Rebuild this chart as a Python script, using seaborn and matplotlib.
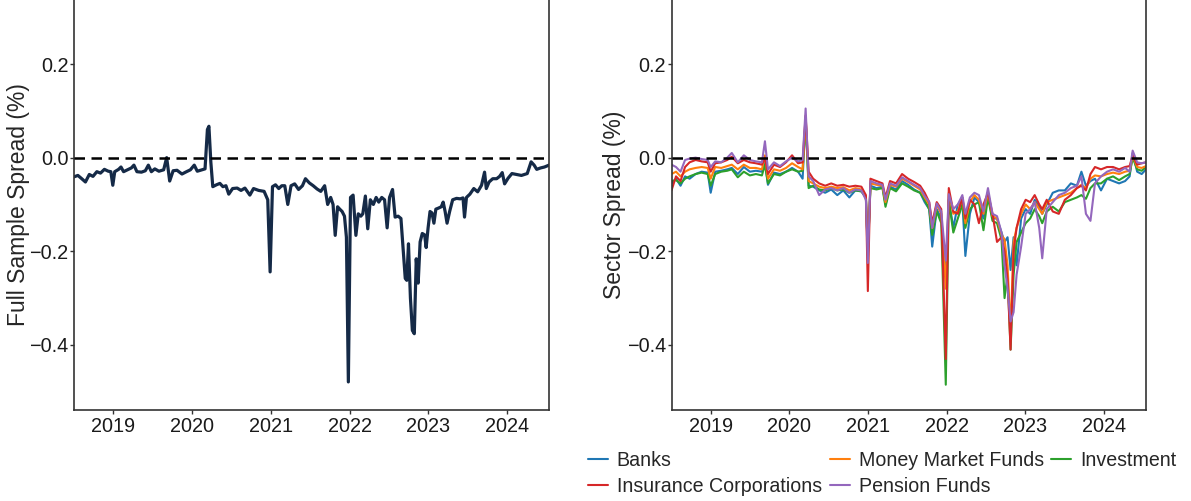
import matplotlib
matplotlib.use("Agg")
import matplotlib.pyplot as plt
import matplotlib.dates as mdates
import pandas as pd
import seaborn as sns

# ---------------------------------------------------------------- data
full_dates = [
    "2018-07-02", "2018-07-20", "2018-08-07", "2018-08-24", "2018-09-11", "2018-09-28",
    "2018-10-16", "2018-11-02", "2018-11-20", "2018-12-08", "2018-12-20", "2018-12-29",
    "2019-01-07", "2019-01-25", "2019-02-05", "2019-02-17", "2019-03-07", "2019-03-25",
    "2019-04-06", "2019-04-20", "2019-05-11", "2019-05-29", "2019-06-12", "2019-06-26",
    "2019-07-12", "2019-07-31", "2019-08-22", "2019-09-05", "2019-09-19", "2019-10-05",
    "2019-10-23", "2019-11-15", "2019-12-06", "2019-12-24", "2020-01-11", "2020-01-25",
    "2020-02-16", "2020-03-01", "2020-03-12", "2020-03-19", "2020-03-28", "2020-04-06",
    "2020-04-23", "2020-05-09", "2020-05-23", "2020-06-06", "2020-06-19", "2020-07-07",
    "2020-07-28", "2020-08-15", "2020-09-02", "2020-09-25", "2020-10-12", "2020-11-05",
    "2020-11-30", "2020-12-17", "2020-12-28", "2021-01-08", "2021-01-22", "2021-02-06",
    "2021-02-20", "2021-03-06", "2021-03-20", "2021-04-04", "2021-04-21", "2021-05-09",
    "2021-05-27", "2021-06-10", "2021-06-28", "2021-07-16", "2021-08-03", "2021-08-20",
    "2021-09-07", "2021-09-21", "2021-10-05", "2021-10-16", "2021-10-26", "2021-11-06",
    "2021-11-16", "2021-11-27", "2021-12-08", "2021-12-17", "2021-12-26", "2022-01-05",
    "2022-01-17", "2022-01-30", "2022-02-10", "2022-02-22", "2022-03-03", "2022-03-15",
    "2022-03-26", "2022-04-07", "2022-04-21", "2022-05-04", "2022-05-16", "2022-05-30",
    "2022-06-12", "2022-06-24", "2022-07-05", "2022-07-19", "2022-07-31", "2022-08-14",
    "2022-08-27", "2022-09-07", "2022-09-16", "2022-09-23", "2022-10-01", "2022-10-10",
    "2022-10-19", "2022-10-28", "2022-11-06", "2022-11-15", "2022-11-24", "2022-12-04",
    "2022-12-15", "2022-12-22", "2022-12-31", "2023-01-09", "2023-01-18", "2023-01-27",
    "2023-02-05", "2023-02-16", "2023-03-02", "2023-03-11", "2023-03-20", "2023-03-29",
    "2023-04-10", "2023-04-24", "2023-05-12", "2023-05-29", "2023-06-11", "2023-06-18",
    "2023-06-27", "2023-07-13", "2023-07-31", "2023-08-18", "2023-09-05", "2023-09-19",
    "2023-09-27", "2023-10-10", "2023-10-27", "2023-11-14", "2023-11-28", "2023-12-10",
    "2023-12-21", "2024-01-06", "2024-01-24", "2024-02-14", "2024-03-08", "2024-04-04",
    "2024-04-22", "2024-05-06", "2024-05-18", "2024-06-05", "2024-06-23", "2024-07-14",
]
full_spread = [
    -0.041, -0.038, -0.045, -0.052, -0.036, -0.040,
    -0.030, -0.033, -0.025, -0.029, -0.030, -0.059,
    -0.030, -0.025, -0.020, -0.030, -0.026, -0.022,
    -0.016, -0.030, -0.031, -0.028, -0.016, -0.030,
    -0.024, -0.029, -0.026, 0.000, -0.050, -0.028,
    -0.027, -0.035, -0.030, -0.026, -0.016, -0.029,
    -0.026, -0.024, 0.060, 0.067, -0.010, -0.062,
    -0.058, -0.055, -0.062, -0.060, -0.078, -0.066,
    -0.065, -0.070, -0.065, -0.080, -0.066, -0.070,
    -0.072, -0.090, -0.244, -0.062, -0.058, -0.066,
    -0.060, -0.060, -0.100, -0.060, -0.056, -0.068,
    -0.060, -0.045, -0.054, -0.060, -0.067, -0.072,
    -0.060, -0.100, -0.085, -0.100, -0.166, -0.105,
    -0.110, -0.115, -0.125, -0.170, -0.479, -0.085,
    -0.080, -0.166, -0.120, -0.125, -0.120, -0.082,
    -0.152, -0.090, -0.100, -0.085, -0.095, -0.085,
    -0.090, -0.150, -0.085, -0.068, -0.127, -0.125,
    -0.130, -0.200, -0.258, -0.262, -0.184, -0.300,
    -0.369, -0.376, -0.216, -0.268, -0.180, -0.162,
    -0.165, -0.192, -0.150, -0.115, -0.118, -0.140,
    -0.110, -0.108, -0.105, -0.095, -0.115, -0.140,
    -0.115, -0.090, -0.087, -0.088, -0.086, -0.127,
    -0.085, -0.078, -0.066, -0.073, -0.059, -0.031,
    -0.066, -0.052, -0.045, -0.045, -0.040, -0.032,
    -0.056, -0.044, -0.034, -0.036, -0.038, -0.034,
    -0.009, -0.016, -0.025, -0.022, -0.020, -0.016,
]

sector_dates = [
    "2018-07-02", "2018-07-23", "2018-08-13", "2018-09-03", "2018-09-24", "2018-10-22",
    "2018-11-19", "2018-12-17", "2018-12-31", "2019-01-21", "2019-02-18", "2019-03-18",
    "2019-04-08", "2019-05-06", "2019-06-03", "2019-07-01", "2019-07-29", "2019-08-26",
    "2019-09-09", "2019-09-23", "2019-10-21", "2019-11-18", "2019-12-16", "2020-01-13",
    "2020-02-10", "2020-03-02", "2020-03-16", "2020-03-30", "2020-04-20", "2020-05-18",
    "2020-06-15", "2020-07-13", "2020-08-10", "2020-09-07", "2020-10-05", "2020-11-02",
    "2020-11-30", "2020-12-21", "2020-12-30", "2021-01-11", "2021-02-08", "2021-03-08",
    "2021-03-22", "2021-04-12", "2021-05-10", "2021-06-07", "2021-07-05", "2021-08-02",
    "2021-08-30", "2021-09-20", "2021-10-11", "2021-10-25", "2021-11-15", "2021-12-06",
    "2021-12-27", "2022-01-10", "2022-01-31", "2022-02-21", "2022-03-14", "2022-03-28",
    "2022-04-18", "2022-05-09", "2022-05-30", "2022-06-20", "2022-07-11", "2022-08-01",
    "2022-08-22", "2022-09-12", "2022-09-26", "2022-10-10", "2022-10-24", "2022-11-07",
    "2022-11-21", "2022-12-12", "2023-01-02", "2023-01-23", "2023-02-13", "2023-03-06",
    "2023-03-20", "2023-04-10", "2023-05-08", "2023-06-05", "2023-07-03", "2023-07-31",
    "2023-08-28", "2023-09-18", "2023-10-09", "2023-10-30", "2023-11-20", "2023-12-18",
    "2024-01-15", "2024-02-12", "2024-03-11", "2024-04-08", "2024-04-29", "2024-05-13",
    "2024-06-03", "2024-06-24", "2024-07-14",
]
banks = [
    -0.055, -0.045, -0.060, -0.040, -0.045, -0.035,
    -0.030, -0.032, -0.075, -0.030, -0.028, -0.025,
    -0.022, -0.035, -0.020, -0.030, -0.028, -0.030,
    -0.010, -0.058, -0.032, -0.035, -0.030, -0.022,
    -0.030, -0.045, 0.085, -0.060, -0.062, -0.070,
    -0.075, -0.068, -0.080, -0.070, -0.085, -0.070,
    -0.072, -0.085, -0.200, -0.060, -0.065, -0.062,
    -0.100, -0.062, -0.068, -0.050, -0.058, -0.068,
    -0.075, -0.095, -0.110, -0.190, -0.110, -0.130,
    -0.250, -0.090, -0.150, -0.100, -0.095, -0.210,
    -0.120, -0.085, -0.095, -0.130, -0.080, -0.130,
    -0.130, -0.160, -0.180, -0.170, -0.240, -0.170,
    -0.230, -0.130, -0.110, -0.120, -0.090, -0.105,
    -0.120, -0.100, -0.075, -0.070, -0.070, -0.055,
    -0.060, -0.030, -0.060, -0.050, -0.045, -0.070,
    -0.045, -0.050, -0.055, -0.050, -0.040, 0.010,
    -0.030, -0.035, -0.025,
]
insurance = [
    -0.070, -0.040, -0.050, -0.020, -0.010, -0.005,
    -0.008, -0.010, -0.030, -0.012, -0.010, -0.005,
    0.002, -0.012, -0.005, -0.010, -0.012, -0.015,
    0.000, -0.035, -0.015, -0.020, -0.010, 0.005,
    -0.012, -0.010, 0.090, -0.030, -0.045, -0.055,
    -0.060, -0.055, -0.060, -0.058, -0.062, -0.060,
    -0.062, -0.080, -0.285, -0.045, -0.050, -0.055,
    -0.085, -0.050, -0.055, -0.035, -0.045, -0.052,
    -0.060, -0.075, -0.095, -0.140, -0.095, -0.110,
    -0.430, -0.065, -0.115, -0.120, -0.085, -0.130,
    -0.090, -0.100, -0.140, -0.100, -0.075, -0.120,
    -0.180, -0.170, -0.200, -0.260, -0.410, -0.200,
    -0.150, -0.110, -0.090, -0.095, -0.080, -0.100,
    -0.110, -0.090, -0.115, -0.120, -0.090, -0.080,
    -0.065, -0.060, -0.070, -0.035, -0.020, -0.025,
    -0.020, -0.020, -0.025, -0.020, -0.018, 0.005,
    -0.015, -0.012, -0.010,
]
money_market = [
    -0.035, -0.030, -0.040, -0.030, -0.025, -0.022,
    -0.020, -0.022, -0.045, -0.020, -0.022, -0.018,
    -0.015, -0.025, -0.015, -0.022, -0.022, -0.025,
    0.005, -0.045, -0.025, -0.028, -0.022, -0.012,
    -0.020, -0.025, 0.088, -0.050, -0.055, -0.062,
    -0.065, -0.062, -0.065, -0.063, -0.070, -0.065,
    -0.068, -0.085, -0.210, -0.055, -0.058, -0.060,
    -0.095, -0.058, -0.062, -0.045, -0.052, -0.060,
    -0.068, -0.085, -0.100, -0.150, -0.100, -0.120,
    -0.280, -0.075, -0.120, -0.115, -0.085, -0.140,
    -0.095, -0.080, -0.090, -0.120, -0.075, -0.125,
    -0.130, -0.165, -0.175, -0.230, -0.370, -0.180,
    -0.150, -0.120, -0.100, -0.110, -0.095, -0.110,
    -0.120, -0.095, -0.090, -0.085, -0.080, -0.075,
    -0.065, -0.058, -0.065, -0.045, -0.038, -0.040,
    -0.035, -0.032, -0.035, -0.030, -0.028, 0.005,
    -0.020, -0.022, -0.018,
]
pension = [
    -0.015, -0.020, -0.030, -0.005, -0.002, 0.000,
    -0.003, -0.005, -0.020, -0.008, -0.010, 0.000,
    0.010, -0.010, 0.005, -0.005, -0.008, -0.010,
    0.035, -0.025, -0.010, -0.018, -0.008, 0.000,
    -0.008, -0.005, 0.105, -0.040, -0.050, -0.080,
    -0.068, -0.065, -0.070, -0.065, -0.075, -0.068,
    -0.070, -0.090, -0.225, -0.050, -0.055, -0.058,
    -0.090, -0.055, -0.060, -0.042, -0.050, -0.058,
    -0.065, -0.082, -0.095, -0.150, -0.098, -0.115,
    -0.220, -0.078, -0.110, -0.100, -0.080, -0.120,
    -0.085, -0.075, -0.080, -0.115, -0.065, -0.120,
    -0.125, -0.160, -0.230, -0.280, -0.350, -0.330,
    -0.250, -0.190, -0.120, -0.110, -0.095, -0.150,
    -0.215, -0.110, -0.095, -0.080, -0.075, -0.065,
    -0.060, -0.040, -0.120, -0.135, -0.055, -0.040,
    -0.030, -0.025, -0.030, -0.022, -0.030, 0.015,
    -0.010, -0.012, -0.010,
]
investment = [
    -0.050, -0.048, -0.055, -0.045, -0.040, -0.035,
    -0.032, -0.035, -0.060, -0.035, -0.030, -0.028,
    -0.025, -0.042, -0.030, -0.038, -0.035, -0.038,
    -0.015, -0.055, -0.035, -0.038, -0.030, -0.025,
    -0.030, -0.028, 0.080, -0.065, -0.060, -0.068,
    -0.070, -0.065, -0.070, -0.068, -0.075, -0.070,
    -0.072, -0.085, -0.200, -0.065, -0.068, -0.065,
    -0.105, -0.065, -0.072, -0.055, -0.062, -0.070,
    -0.075, -0.090, -0.110, -0.165, -0.115, -0.140,
    -0.485, -0.090, -0.160, -0.130, -0.100, -0.150,
    -0.110, -0.100, -0.095, -0.155, -0.085, -0.135,
    -0.140, -0.175, -0.300, -0.250, -0.410, -0.250,
    -0.180, -0.160, -0.140, -0.130, -0.110, -0.125,
    -0.140, -0.115, -0.105, -0.115, -0.095, -0.090,
    -0.085, -0.080, -0.088, -0.065, -0.055, -0.055,
    -0.045, -0.040, -0.048, -0.040, -0.035, 0.000,
    -0.025, -0.028, -0.020,
]

sector_names = ["Banks", "Insurance Corporations", "Money Market Funds",
                "Pension Funds", "Investment"]
sector_colors = ["#1f77b4", "#d62728", "#ff7f0e", "#9467bd", "#2ca02c"]
draw_order = ["Banks", "Investment", "Money Market Funds",
              "Insurance Corporations", "Pension Funds"]
year_ticks = [2019, 2020, 2021, 2022, 2023, 2024]
y_ticks = [-0.4, -0.2, 0.0, 0.2]

# ---------------------------------------------------------------- frames
full_df = pd.DataFrame({"date": pd.to_datetime(full_dates), "spread": full_spread})
sector_wide = pd.DataFrame({
    "date": pd.to_datetime(sector_dates),
    "Banks": banks,
    "Insurance Corporations": insurance,
    "Money Market Funds": money_market,
    "Pension Funds": pension,
    "Investment": investment,
})
sector_long = sector_wide.melt(id_vars="date", var_name="sector", value_name="spread")

# ---------------------------------------------------------------- style
sns.set_theme(style="ticks")
plt.rcParams["font.family"] = ["Liberation Sans", "DejaVu Sans"]
plt.rcParams["axes.unicode_minus"] = True

W, H = 1191, 501
TICK_FS = 14.3
fig = plt.figure(figsize=(W / 100, H / 100), dpi=100)
ax1 = fig.add_axes([74 / W, 91 / H, 475 / W, 410 / H])
ax2 = fig.add_axes([671.5 / W, 91 / H, 474.5 / W, 410 / H])

palette = dict(zip(sector_names, sector_colors))

sns.lineplot(data=full_df, x="date", y="spread", ax=ax1, color="#152a47",
             linewidth=2.3, estimator=None, sort=False)
sns.lineplot(data=sector_long, x="date", y="spread", hue="sector",
             hue_order=draw_order, palette=palette, ax=ax2, linewidth=1.5,
             estimator=None, sort=False, legend=False)

x_lo, x_hi = pd.Timestamp("2018-07-02"), pd.Timestamp("2024-07-14")
for ax, label, lx in [(ax1, "Full Sample Spread (%)", -0.093),
                      (ax2, "Sector Spread (%)", -0.096)]:
    ax.axhline(0, color="black", linewidth=1.8, linestyle=(0, (4.2, 2.6)), zorder=5)
    ax.set_xlim(x_lo, x_hi)
    ax.set_ylim(-0.539, 0.3367)
    ax.set_yticks(y_ticks)
    ax.set_xticks([pd.Timestamp(f"{y}-01-01") for y in year_ticks])
    ax.xaxis.set_major_formatter(mdates.DateFormatter("%Y"))
    ax.set_xlabel("")
    ax.set_ylabel(label, fontsize=16.5)
    ax.yaxis.set_label_coords(lx, 0.5)
    ax.tick_params(axis="both", labelsize=TICK_FS, length=2.8, width=1.0,
                   color="#333333", labelcolor="#1a1a1a")
    ax.tick_params(axis="x", pad=2.0)
    ax.tick_params(axis="y", pad=1.2)
    ax.spines["top"].set_visible(False)
    for side in ("left", "right", "bottom"):
        ax.spines[side].set_visible(True)
        ax.spines[side].set_color("#333333")
        ax.spines[side].set_linewidth(1.2)
    ax.grid(False)

# legend in the column-wise order of the sector list
handles = [plt.Line2D([], [], color=c, linewidth=1.5) for c in sector_colors]
fig.legend(handles, sector_names, loc="upper left",
           bbox_to_anchor=(588 / W, 1 - 451 / H), ncol=3, frameon=False,
           fontsize=14.1, handlelength=1.02, handletextpad=0.45,
           columnspacing=0.4, labelspacing=0.34, borderaxespad=0,
           borderpad=0)

fig.savefig("out.png", dpi=100)
